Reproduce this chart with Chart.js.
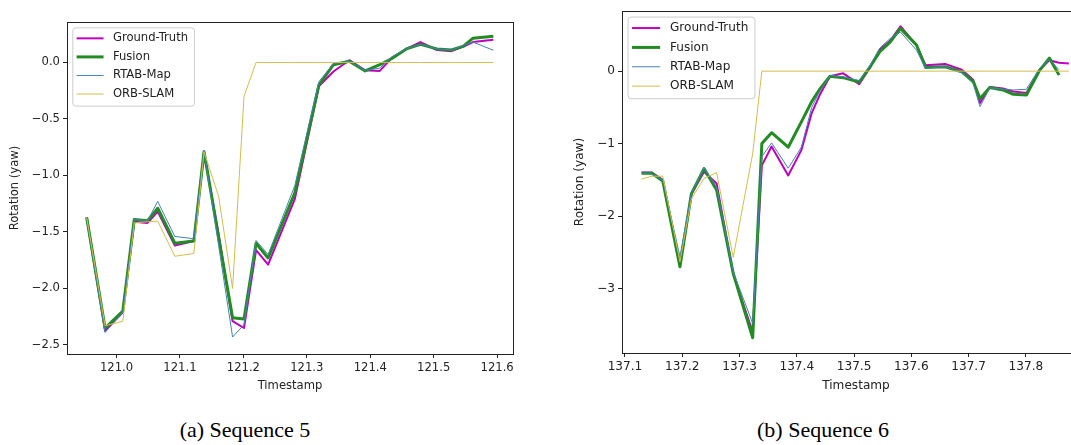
<!DOCTYPE html>
<html>
<head>
<meta charset="utf-8">
<script src="https://cdn.jsdelivr.net/npm/chart.js@4.4.0/dist/chart.umd.min.js"></script>
<style>
  html, body { margin: 0; padding: 0; background: #fff; width: 1071px; height: 445px; overflow: hidden; }
  .panel { position: absolute; top: 0; }
  .caption {
    position: absolute; top: 417px; transform: translateX(-50%);
    font-family: "Liberation Serif", "Times New Roman", serif; font-size: 22px;
    color: #000; white-space: nowrap;
  }
</style>
</head>
<body>
<div class="panel" style="left:0"><canvas id="seq5" width="530" height="400"></canvas></div>
<div class="panel" style="left:560px"><canvas id="seq6" width="560" height="400"></canvas></div>
<div class="caption" style="left:245px">(a) Sequence 5</div>
<div class="caption" style="left:823px">(b) Sequence 6</div>
<script>
// Sequence 5: yaw per timestamp
const time5 = [120.953, 120.982, 121.010, 121.028, 121.049, 121.065, 121.092, 121.122, 121.138, 121.161,
  121.183, 121.201, 121.220, 121.239, 121.281, 121.319, 121.342, 121.367, 121.392, 121.415,
  121.434, 121.457, 121.479, 121.505, 121.528, 121.547, 121.562, 121.594];
const gt5 = [-1.37, -2.375, -2.21, -1.41, -1.42, -1.32, -1.62, -1.58, -0.80, -1.52,
  -2.29, -2.35, -1.66, -1.79, -1.21, -0.21, -0.08, 0.02, -0.07, -0.075,
  0.04, 0.12, 0.18, 0.11, 0.10, 0.14, 0.18, 0.20];
const fusion5 = [-1.37, -2.35, -2.20, -1.39, -1.40, -1.29, -1.60, -1.58, -0.79, -1.55,
  -2.26, -2.27, -1.60, -1.73, -1.155, -0.20, -0.02, 0.01, -0.075, -0.02,
  0.035, 0.12, 0.16, 0.12, 0.11, 0.145, 0.215, 0.232];
const rtab5 = [-1.37, -2.39, -2.21, -1.39, -1.40, -1.23, -1.54, -1.56, -0.78, -1.62,
  -2.43, -2.32, -1.575, -1.70, -1.09, -0.17, -0.01, 0.01, -0.07, -0.05,
  0.05, 0.12, 0.16, 0.12, 0.11, 0.15, 0.18, 0.108];
const orb5 = [-1.37, -2.33, -2.29, -1.42, -1.41, -1.405, -1.715, -1.69, -0.79, -1.185,
  -2.0, -0.30, 0, 0, 0, 0, 0, 0, 0, 0,
  0, 0, 0, 0, 0, 0, 0, 0];
const xTicks5 = [121.0, 121.1, 121.2, 121.3, 121.4, 121.5, 121.6];
const yTicks5 = [0.0, -0.5, -1.0, -1.5, -2.0, -2.5];
const xLimits5 = [120.922, 121.625];
const yLimits5 = [-2.58, 0.358];

// Sequence 6: yaw per timestamp
const time6 = [137.129, 137.147, 137.166, 137.196, 137.216, 137.238, 137.260, 137.289, 137.323, 137.339,
  137.356, 137.385, 137.408, 137.426, 137.440, 137.458, 137.481, 137.509, 137.528, 137.545,
  137.563, 137.581, 137.609, 137.625, 137.659, 137.688, 137.708, 137.720, 137.737, 137.760,
  137.778, 137.801, 137.824, 137.841, 137.858, 137.875];
const gt6 = [-1.40, -1.40, -1.50, -2.68, -1.70, -1.39, -1.55, -2.80, -3.60, -1.30,
  -1.04, -1.44, -1.09, -0.58, -0.33, -0.07, -0.03, -0.18, 0.05, 0.30,
  0.42, 0.62, 0.36, 0.08, 0.10, 0.02, -0.12, -0.44, -0.22, -0.24,
  -0.28, -0.30, 0.02, 0.15, 0.115, 0.105];
const fusion6 = [-1.41, -1.41, -1.515, -2.70, -1.69, -1.345, -1.64, -2.79, -3.68, -1.00,
  -0.85, -1.05, -0.70, -0.42, -0.25, -0.07, -0.09, -0.15, 0.06, 0.27,
  0.40, 0.59, 0.36, 0.05, 0.06, -0.01, -0.14, -0.38, -0.225, -0.26,
  -0.32, -0.33, 0.01, 0.18, -0.055];
const rtab6 = [-1.41, -1.42, -1.50, -2.56, -1.68, -1.33, -1.60, -2.77, -3.48, -1.18,
  -0.99, -1.34, -1.05, -0.50, -0.28, -0.06, -0.08, -0.13, 0.08, 0.32,
  0.45, 0.54, 0.29, 0.04, 0.06, -0.02, -0.17, -0.49, -0.23, -0.25,
  -0.26, -0.25, 0.04, 0.16, 0.02];
const orb6 = [-1.49, -1.45, -1.45, -2.63, -1.76, -1.48, -1.40, -2.57, -1.14, 0,
  0, 0, 0, 0, 0, 0, 0, 0, 0, 0,
  0, 0, 0, 0, 0, 0, 0, 0, 0, 0,
  0, 0, 0, 0, 0, 0];
const xTicks6 = [137.1, 137.2, 137.3, 137.4, 137.5, 137.6, 137.7, 137.8];
const yTicks6 = [0, -1, -2, -3];
const xLimits6 = [137.0948, 137.912];
const yLimits6 = [-3.89, 0.83];

const seriesLabels = ['Ground-Truth', 'Fusion', 'RTAB-Map', 'ORB-SLAM'];
const seriesColors = ['#bf00bf', '#228b22', '#4682b4', '#d4bd4c'];
const seriesWidths = [2, 3, 1, 1];

const FONT = '"DejaVu Sans", "Noto Sans", sans-serif';

function toPoints(times, values) {
  return values.map((v, i) => ({ x: times[i], y: v }));
}

function withMinus(str) {
  return str.replace('-', '\u2212');
}

// box around the axes (all four sides)
const framePlugin = {
  id: 'frame',
  afterDatasetsDraw(chart) {
    const { ctx, chartArea: a } = chart;
    ctx.save();
    ctx.strokeStyle = '#222';
    ctx.lineWidth = 1;
    ctx.strokeRect(Math.round(a.left) + 0.5, Math.round(a.top) + 0.5,
      Math.round(a.right - a.left), Math.round(a.bottom - a.top));
    ctx.restore();
  }
};

// legend box in the upper left corner of the axes
const boxLegend = {
  id: 'boxLegend',
  afterDatasetsDraw(chart, args, opts) {
    const { ctx, chartArea: a } = chart;
    const em = opts.fontSize;
    const sets = chart.data.datasets.slice().sort((p, q) => q.order - p.order);
    ctx.save();
    ctx.font = em + 'px ' + FONT;
    const textW = Math.max(...sets.map(d => ctx.measureText(d.label).width));
    const x0 = a.left + 0.5 * em;
    const y0 = a.top + 0.5 * em;
    const w = 3.46 * em + textW + 0.55 * em;
    const h = 6.75 * em;
    const r = 3;
    ctx.beginPath();
    ctx.moveTo(x0 + r, y0);
    ctx.arcTo(x0 + w, y0, x0 + w, y0 + h, r);
    ctx.arcTo(x0 + w, y0 + h, x0, y0 + h, r);
    ctx.arcTo(x0, y0 + h, x0, y0, r);
    ctx.arcTo(x0, y0, x0 + w, y0, r);
    ctx.closePath();
    ctx.fillStyle = 'rgba(255,255,255,0.8)';
    ctx.fill();
    ctx.strokeStyle = '#cccccc';
    ctx.lineWidth = 1;
    ctx.stroke();

    ctx.textBaseline = 'middle';
    ctx.textAlign = 'left';
    sets.forEach((d, i) => {
      const y = y0 + 0.91 * em + i * 1.6 * em;
      ctx.beginPath();
      ctx.moveTo(x0 + 0.33 * em, y);
      ctx.lineTo(x0 + 2.65 * em, y);
      ctx.strokeStyle = d.borderColor;
      ctx.lineWidth = d.borderWidth;
      ctx.stroke();
      ctx.fillStyle = '#222';
      ctx.fillText(d.label, x0 + 3.46 * em, y);
    });
    ctx.restore();
  }
};

function buildChart(id, times, values, xTicks, yTicks, xLim, yLim, yFormat, box) {
  const datasets = values.map((vals, i) => ({
    label: seriesLabels[i],
    data: toPoints(times, vals),
    borderColor: seriesColors[i],
    backgroundColor: seriesColors[i],
    borderWidth: seriesWidths[i],
    pointRadius: 0,
    tension: 0,
    fill: false,
    borderJoinStyle: 'round',
    order: values.length - i
  }));

  const tickFont = { family: FONT, size: box.font };
  const titleFont = { family: FONT, size: box.font };

  return new Chart(document.getElementById(id), {
    type: 'line',
    data: { datasets },
    options: {
      responsive: false,
      animation: false,
      devicePixelRatio: 1,
      layout: { padding: { left: 0, top: box.top, right: box.right, bottom: 0 } },
      plugins: {
        legend: { display: false },
        tooltip: { enabled: false },
        boxLegend: { fontSize: box.font }
      },
      scales: {
        x: {
          type: 'linear',
          min: xLim[0],
          max: xLim[1],
          afterBuildTicks: s => { s.ticks = xTicks.map(v => ({ value: v })); },
          afterFit: s => { s.height = box.xHeight; },
          grid: { drawOnChartArea: false, drawTicks: true, tickLength: 4, color: '#222' },
          border: { display: true, color: '#222' },
          ticks: {
            color: '#222', font: tickFont, padding: 3, maxRotation: 0, autoSkip: false,
            callback: v => v.toFixed(1)
          },
          title: { display: true, text: 'Timestamp', color: '#222', font: titleFont,
            padding: { top: 0, bottom: box.xTitlePad } }
        },
        y: {
          type: 'linear',
          min: yLim[0],
          max: yLim[1],
          afterBuildTicks: s => { s.ticks = yTicks.map(v => ({ value: v })); },
          afterFit: s => { s.width = box.yWidth; },
          grid: { drawOnChartArea: false, drawTicks: true, tickLength: 4, color: '#222' },
          border: { display: true, color: '#222' },
          ticks: {
            color: '#222', font: tickFont, padding: 3, autoSkip: false,
            callback: v => withMinus(yFormat(v))
          },
          title: { display: true, text: 'Rotation (yaw)', color: '#222', font: titleFont,
            padding: { top: box.yTitlePad, bottom: 0 } }
        }
      }
    },
    plugins: [framePlugin, boxLegend]
  });
}

buildChart('seq5', time5, [gt5, fusion5, rtab5, orb5], xTicks5, yTicks5, xLimits5, yLimits5,
  v => v.toFixed(1),
  { font: 11.6, top: 22, right: 17, xHeight: 46, yWidth: 67, xTitlePad: 7, yTitlePad: 8 });

buildChart('seq6', time6, [gt6, fusion6, rtab6, orb6], xTicks6, yTicks6, xLimits6, yLimits6,
  v => v.toFixed(0),
  { font: 12.1, top: 11, right: 30, xHeight: 47, yWidth: 62, xTitlePad: 7, yTitlePad: 13 });
</script>
</body>
</html>
